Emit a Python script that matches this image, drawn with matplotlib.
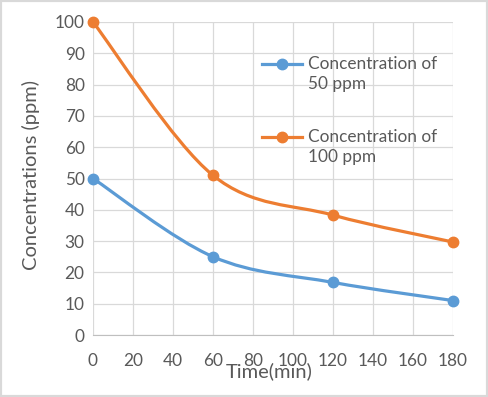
import matplotlib
matplotlib.use("Agg")
import matplotlib.pyplot as plt
from matplotlib.path import Path
from matplotlib.patches import PathPatch, Rectangle
from matplotlib.lines import Line2D

plt.rcParams["font.family"] = ["Lato", "DejaVu Sans"]

time_min = [0, 60, 120, 180]
conc_50 = [50, 25, 16.8, 11]
conc_100 = [100, 51, 38.3, 29.7]
labels = ["Concentration of\n50 ppm", "Concentration of\n100 ppm"]
colors = ["#5B9BD5", "#ED7D31"]
xticks = list(range(0, 181, 20))
yticks = list(range(0, 101, 10))

text_color = "#595959"
grid_color = "#d9d9d9"
fs = 12.4


def smooth_path(xs, ys):
    # Excel-style smoothed line: cubic Bezier through the data points
    pts = list(zip(xs, ys))
    n = len(pts)
    verts = [pts[0]]
    codes = [Path.MOVETO]
    for i in range(n - 1):
        p0 = pts[max(i - 1, 0)]
        p1 = pts[i]
        p2 = pts[i + 1]
        p3 = pts[min(i + 2, n - 1)]
        c1 = (p1[0] + (p2[0] - p0[0]) / 6, p1[1] + (p2[1] - p0[1]) / 6)
        c2 = (p2[0] - (p3[0] - p1[0]) / 6, p2[1] - (p3[1] - p1[1]) / 6)
        verts += [c1, c2, p2]
        codes += [Path.CURVE4] * 3
    return Path(verts, codes)


fig = plt.figure(figsize=(4.88, 3.97), dpi=100)
ax = fig.add_axes([93 / 488, 1 - 335 / 397, 360 / 488, 313 / 397])

for ys, c in zip([conc_50, conc_100], colors):
    ax.add_patch(PathPatch(smooth_path(time_min, ys), facecolor="none",
                           edgecolor=c, linewidth=2.3, zorder=3))
    ax.plot(time_min, ys, linestyle="none", marker="o", markersize=7.5,
            color=c, zorder=4, clip_on=False)

ax.set_xlim(0, 180)
ax.set_ylim(0, 100)
ax.set_xticks(xticks)
ax.set_yticks(yticks)
ax.grid(True, color=grid_color, linewidth=0.9)
ax.set_axisbelow(True)
for s in ["top", "right", "left"]:
    ax.spines[s].set_visible(False)
ax.spines["bottom"].set_color("#bfbfbf")
ax.tick_params(axis="both", length=0, labelsize=fs, labelcolor=text_color)
ax.tick_params(axis="x", pad=13)
ax.tick_params(axis="y", pad=6)

fig.text(269 / 488, 1 - 371 / 397, "Time(min)", ha="center", va="center",
         fontsize=14.5, color=text_color)
fig.text(31 / 488, 1 - 175 / 397, "Concentrations (ppm)", ha="center",
         va="center", rotation=90, fontsize=14.5, color=text_color)

# legend
for i, (lab, c) in enumerate(zip(labels, colors)):
    y = 1 - (64 + 73 * i) / 397
    fig.add_artist(Line2D([262 / 488, 302 / 488], [y, y], color=c,
                          linewidth=2.3))
    fig.add_artist(Line2D([282 / 488], [y], color=c, marker="o",
                          markersize=7.5, linestyle="none"))
    fig.text(308 / 488, y + 8 / 397, lab, ha="left", va="top", fontsize=fs,
             color=text_color, linespacing=1.3)

fig.add_artist(Rectangle((0, 0), 1, 1, transform=fig.transFigure,
                         facecolor="none", edgecolor=grid_color, linewidth=3))

fig.savefig("out.png", dpi=100)
